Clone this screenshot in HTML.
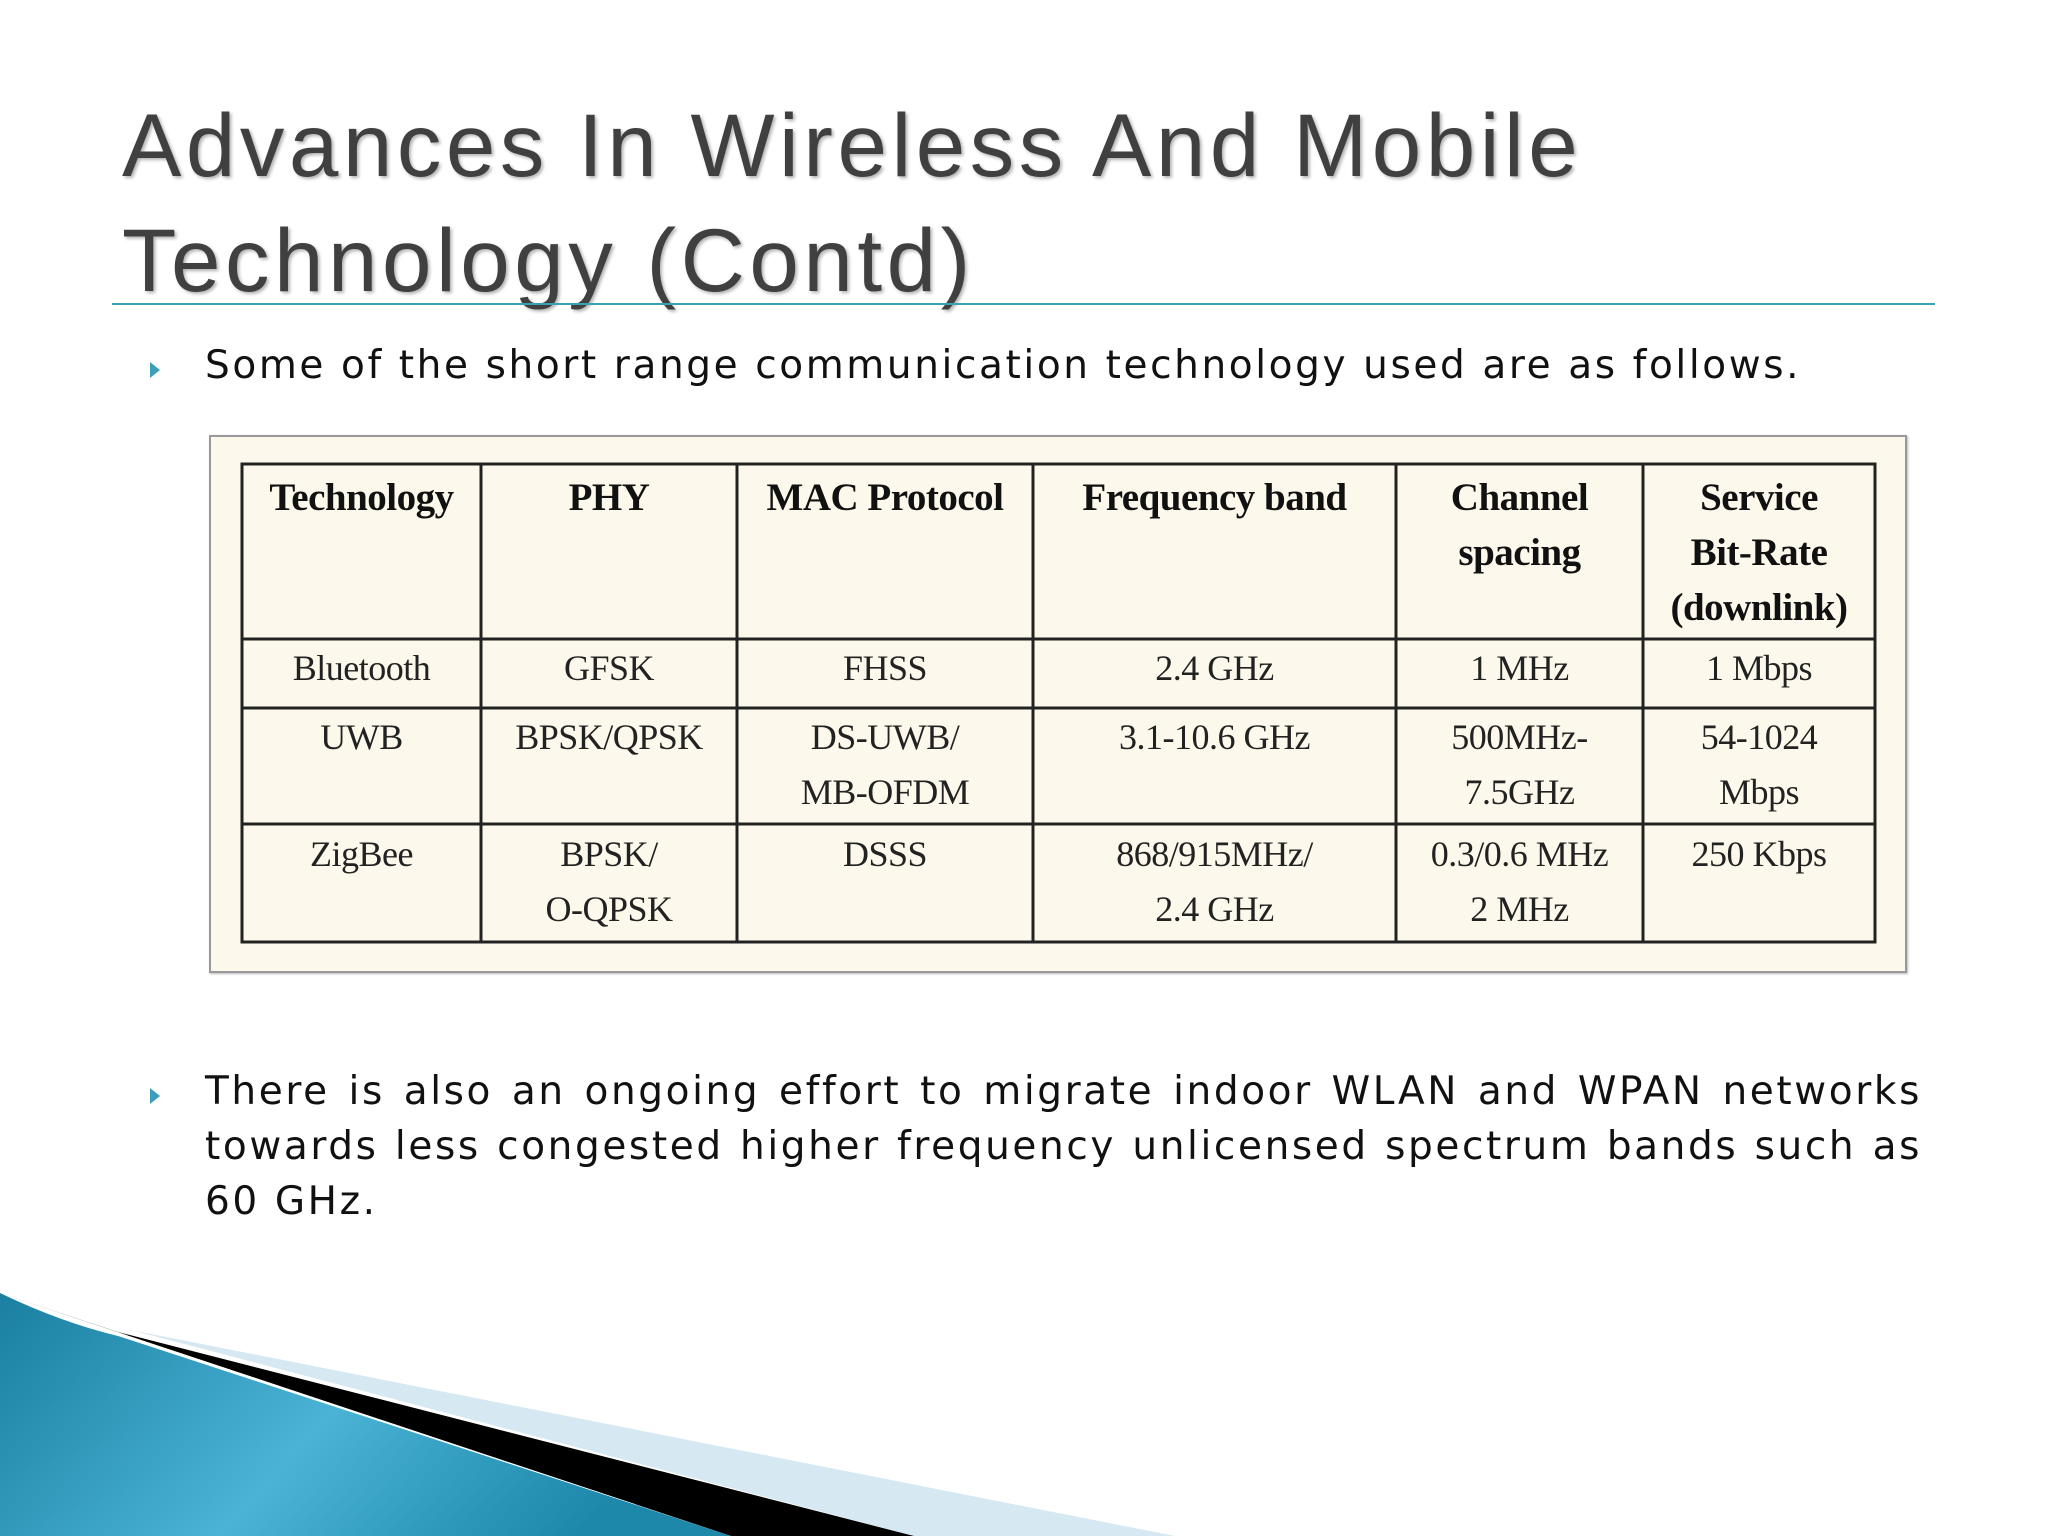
<!DOCTYPE html>
<html><head><meta charset="utf-8">
<style>
html,body{margin:0;padding:0;}
body{width:2048px;height:1536px;background:#fff;position:relative;overflow:hidden;font-family:"DejaVu Sans","Liberation Sans",sans-serif;}
.t{position:absolute;font-family:"Liberation Sans",sans-serif;font-size:89px;letter-spacing:4.5px;color:#404040;text-shadow:2px 2px 3px rgba(0,0,0,0.3);white-space:nowrap;line-height:1;}
.b{position:absolute;font-size:39px;letter-spacing:2.6px;color:#111;line-height:55px;}
.tri{position:absolute;width:0;height:0;border-top:8px solid transparent;border-bottom:8px solid transparent;border-left:10px solid #3aa0b8;}
.c{position:absolute;font-family:"Liberation Serif",serif;text-align:center;color:#222;line-height:55px;font-size:36px;letter-spacing:-0.5px;}
.h{font-weight:bold;font-size:39px;color:#111;}
</style></head><body>
<div class="t" style="left:122px;top:101px;">Advances In Wireless And Mobile</div>
<div class="t" style="left:122px;top:216px;">Technology (Contd)</div>
<div style="position:absolute;left:112px;top:303px;width:1823px;height:2px;background:#3aa0b8;"></div>

<div class="tri" style="left:150px;top:362px;"></div>
<div class="b" style="left:205px;top:338px;white-space:nowrap;">Some of the short range communication technology used are as follows.</div>

<div style="position:absolute;left:209px;top:435px;width:1694px;height:534px;background:#fcf9ec;border:2px solid #999;box-shadow:1px 1px 2px #bbb;"></div>
<svg style="position:absolute;left:0;top:0" width="2048" height="1536">
<g stroke="#222" stroke-width="3" fill="none">
<rect x="242" y="464" width="1633" height="478"/>
<line x1="481" y1="464" x2="481" y2="942"/><line x1="737" y1="464" x2="737" y2="942"/>
<line x1="1033" y1="464" x2="1033" y2="942"/><line x1="1396" y1="464" x2="1396" y2="942"/>
<line x1="1643" y1="464" x2="1643" y2="942"/>
<line x1="242" y1="639" x2="1875" y2="639"/><line x1="242" y1="708" x2="1875" y2="708"/>
<line x1="242" y1="824" x2="1875" y2="824"/>
</g></svg>

<div class="c h" style="left:242px;width:239px;top:470px;">Technology</div>
<div class="c h" style="left:481px;width:256px;top:470px;">PHY</div>
<div class="c h" style="left:737px;width:296px;top:470px;">MAC Protocol</div>
<div class="c h" style="left:1033px;width:363px;top:470px;">Frequency band</div>
<div class="c h" style="left:1396px;width:247px;top:470px;">Channel<br>spacing</div>
<div class="c h" style="left:1643px;width:232px;top:470px;">Service<br>Bit-Rate<br>(downlink)</div>

<div class="c" style="left:242px;width:239px;top:641px;">Bluetooth</div>
<div class="c" style="left:481px;width:256px;top:641px;">GFSK</div>
<div class="c" style="left:737px;width:296px;top:641px;">FHSS</div>
<div class="c" style="left:1033px;width:363px;top:641px;">2.4 GHz</div>
<div class="c" style="left:1396px;width:247px;top:641px;">1 MHz</div>
<div class="c" style="left:1643px;width:232px;top:641px;">1 Mbps</div>

<div class="c" style="left:242px;width:239px;top:710px;">UWB</div>
<div class="c" style="left:481px;width:256px;top:710px;">BPSK/QPSK</div>
<div class="c" style="left:737px;width:296px;top:710px;">DS-UWB/<br>MB-OFDM</div>
<div class="c" style="left:1033px;width:363px;top:710px;">3.1-10.6 GHz</div>
<div class="c" style="left:1396px;width:247px;top:710px;">500MHz-<br>7.5GHz</div>
<div class="c" style="left:1643px;width:232px;top:710px;">54-1024<br>Mbps</div>

<div class="c" style="left:242px;width:239px;top:827px;">ZigBee</div>
<div class="c" style="left:481px;width:256px;top:827px;">BPSK/<br>O-QPSK</div>
<div class="c" style="left:737px;width:296px;top:827px;">DSSS</div>
<div class="c" style="left:1033px;width:363px;top:827px;">868/915MHz/<br>2.4 GHz</div>
<div class="c" style="left:1396px;width:247px;top:827px;">0.3/0.6 MHz<br>2 MHz</div>
<div class="c" style="left:1643px;width:232px;top:827px;">250 Kbps</div>

<div class="tri" style="left:150px;top:1088px;"></div>
<div class="b" style="left:205px;top:1064px;width:1717px;text-align:justify;">There is also an ongoing effort to migrate indoor WLAN and WPAN networks towards less congested higher frequency unlicensed spectrum bands such as 60 GHz.</div>

<svg style="position:absolute;left:0;top:0" width="2048" height="1536">
<defs><linearGradient id="g" x1="0" y1="0" x2="1" y2="0.3">
<stop offset="0" stop-color="#1a7fa0"/><stop offset="0.55" stop-color="#4ab3d6"/><stop offset="1" stop-color="#1d88aa"/></linearGradient></defs>
<polygon points="131,1330 1175,1536 914,1536" fill="#d6e9f2"/>
<polygon points="0,1293 118,1332 914,1536 731,1536" fill="#000"/>
<path d="M0,1293 Q60,1322 118,1336 L731,1536 L0,1536 Z" fill="url(#g)"/>
</svg>
</body></html>
